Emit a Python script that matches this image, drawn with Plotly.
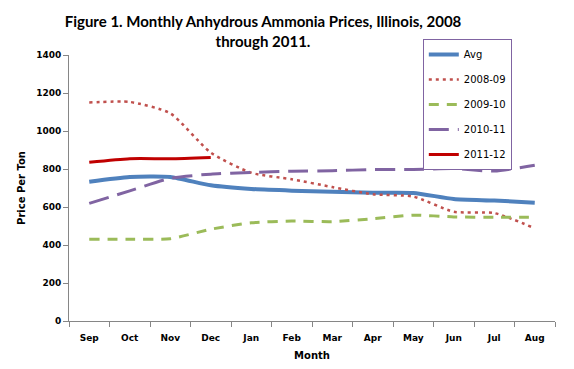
import plotly.graph_objects as go

months = ["Sep", "Oct", "Nov", "Dec", "Jan", "Feb", "Mar", "Apr", "May", "Jun", "Jul", "Aug"]
avg = [733, 758, 758, 714, 695, 686, 680, 675, 674, 642, 634, 623]
s0809 = [1150, 1153, 1093, 886, 780, 746, 705, 667, 655, 575, 568, 488]
s0910 = [430, 430, 433, 483, 517, 526, 523, 538, 557, 548, 546, 546]
s1011 = [619, 685, 751, 773, 782, 788, 791, 797, 798, 802, 789, 820]
s1112 = [835, 854, 854, 861]

series = [
    ("Avg", avg, "#4F81BD", 4, "solid"),
    ("2008-09", s0809, "#C0504D", 2.5, "3px,4px"),
    ("2009-10", s0910, "#9BBB59", 3, "10px,8px"),
    ("2010-11", s1011, "#8064A2", 3, "20px,9px"),
    ("2011-12", s1112, "#C00000", 3, "solid"),
]

fig = go.Figure()
for i, (name, vals, color, w, dash) in enumerate(series):
    fig.add_trace(go.Scatter(
        x=months[:len(vals)], y=vals, name=name, mode="lines",
        line=dict(color=color, width=w, dash=dash, shape="spline", smoothing=0.6),
        legendgroup=f"g{i}",
    ))

axis_font = dict(family="DejaVu Sans", size=9, color="#000000")
title_font = dict(family="DejaVu Sans", size=10, color="#000000")
fig.update_layout(
    width=574, height=369,
    margin=dict(l=69, r=19, t=55, b=48, autoexpand=False),
    paper_bgcolor="white", plot_bgcolor="white",
    modebar=dict(bgcolor="rgba(0,0,0,0)", color="rgba(0,0,0,0)", activecolor="rgba(0,0,0,0)"),
    title=dict(
        text="<b>Figure 1. Monthly Anhydrous Ammonia Prices, Illinois, 2008<br>through 2011.</b>",
        x=263 / 574, xanchor="center", yref="container", y=1 - 27 / 369, yanchor="top",
        font=dict(family="Lato", size=15, color="#000000"),
    ),
    showlegend=True,
    legend=dict(
        x=0.728, xanchor="left", y=1.06, yanchor="top",
        bordercolor="#8064A2", borderwidth=1, bgcolor="white",
        font=dict(family="DejaVu Sans", size=10, color="#000000"),
        traceorder="grouped", tracegroupgap=6,
    ),
    xaxis=dict(
        type="category", range=[-0.5, 11.5], tickson="boundaries",
        showline=True, linecolor="#868686", linewidth=1,
        ticks="outside", ticklen=5, tickcolor="#868686",
        showgrid=False, tickfont=axis_font, ticklabelstandoff=8,
        tickprefix="<b>", ticksuffix="</b>",
        title=dict(text="<b>Month</b>", font=title_font, standoff=10),
    ),
    yaxis=dict(
        range=[0, 1400], dtick=200, tickformat="d",
        showline=True, linecolor="#868686", linewidth=1,
        ticks="outside", ticklen=5, tickcolor="#868686",
        showgrid=False, zeroline=False, tickfont=axis_font,
        tickprefix="<b>", ticksuffix="</b>",
        title=dict(text="<b>Price Per Ton</b>", font=title_font, standoff=8),
    ),
)

fig.write_html("out.html", config={"displaylogo": False},
               post_script="document.body.style.margin='0px';")
